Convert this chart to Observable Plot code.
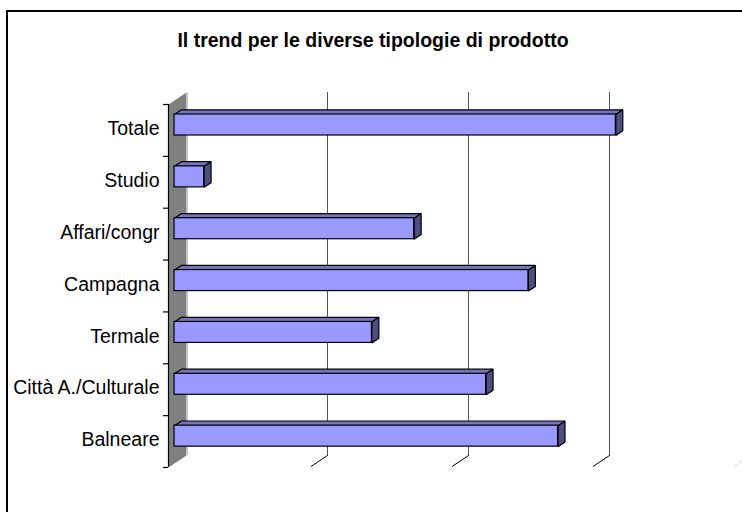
<!DOCTYPE html>
<html>
<head>
<meta charset="utf-8">
<script src="https://cdn.jsdelivr.net/npm/d3@7"></script>
<script src="https://cdn.jsdelivr.net/npm/@observablehq/plot@0.6"></script>
<style>
  html, body { margin: 0; padding: 0; background: #fff; overflow: hidden; }
  #wrap { position: relative; width: 742px; height: 512px; overflow: hidden; }
  #border { position: absolute; left: 6px; top: 10px; width: 800px; height: 600px; border: 2px solid #000; box-sizing: border-box; }
  #title { position: absolute; left: 0; width: 746px; top: 29px; text-align: center;
           font-family: "Liberation Sans", Arial, sans-serif; font-weight: bold; font-size: 19.5px; color: #000; }
  #chart { position: absolute; left: 0; top: 0; }
</style>
</head>
<body>
<div id="wrap">
  <div id="border"></div>
  <div id="title">Il trend per le diverse tipologie di prodotto</div>
  <div id="chart"></div>
</div>
<script>
// ---- data ----
const categories = ["Totale", "Studio", "Affari/congr", "Campagna", "Termale", "Città A./Culturale", "Balneare"];
const values = [31.3, 2.1, 17.0, 25.1, 14.0, 22.1, 27.2];
const gridValues = [10, 20, 30, 40];

// ---- layout ----
const W = 742, H = 512;
const mL = 168, mR = 10, mT = 104, mB = 45;
const xMax = 40;
const pxX = (W - mL - mR) / xMax;              // px per x unit
const pxY = (H - mT - mB) / categories.length;  // px per category
const DX = 18 / pxX, DY = 12 / pxY;             // wall depth in data units
const P = (x, y, d) => ({x: x + d * DX, y: y - d * DY});

const dF = 1 / 3, dB = 0.72, a = 0.27, h = 0.405;

const bars = categories.map((c, i) => ({c, i, v: values[i]}));

const topFaces = bars.flatMap(b => [
  P(0, b.i + a, dF), P(b.v, b.i + a, dF), P(b.v, b.i + a, dB), P(0, b.i + a, dB), P(0, b.i + a, dF)
].map(p => ({...p, id: b.c})));
const sideFaces = bars.flatMap(b => [
  P(b.v, b.i + a, dF), P(b.v, b.i + a, dB), P(b.v, b.i + a + h, dB), P(b.v, b.i + a + h, dF), P(b.v, b.i + a, dF)
].map(p => ({...p, id: b.c})));
const n = categories.length;
const wall = [P(0, 0, 0), P(0, 0, 1), P(0, n, 1), P(0, n, 0), P(0, 0, 0)];
const floorLines = gridValues.flatMap(g => [P(g, n, 0.1), P(g, n, 1)].map(p => ({...p, g})));

const chart = Plot.plot({
  width: W, height: H,
  marginLeft: mL, marginRight: mR, marginTop: mT, marginBottom: mB,
  style: {background: "transparent", fontFamily: "'Liberation Sans', Arial, sans-serif"},
  x: {domain: [0, xMax], axis: null},
  y: {domain: [0, n], reverse: true, axis: null},
  marks: [
    Plot.line(wall, {x: "x", y: "y", fill: "#808080", stroke: "none"}),
    Plot.ruleX([0], {x: d => d + DX + 1 / pxX, y1: -DY, y2: n - DY, stroke: "#c8c8c8", strokeWidth: 1}),
    Plot.ruleX(gridValues, {x: d => d + DX, y1: -DY, y2: n - DY, stroke: "#555", strokeWidth: 1}),
    Plot.line(floorLines, {x: "x", y: "y", z: "g", stroke: d => d.g === 40 ? "#ddd" : "#000", strokeWidth: 1}),
    Plot.line(topFaces, {x: "x", y: "y", z: "id", fill: "#7474c0", stroke: "#000", strokeWidth: 1.2, strokeLinejoin: "miter"}),
    Plot.line(sideFaces, {x: "x", y: "y", z: "id", fill: "#4d4d80", stroke: "#000", strokeWidth: 1.2, strokeLinejoin: "miter"}),
    Plot.rect(bars, {
      x1: d => dF * DX, x2: d => d.v + dF * DX,
      y1: d => d.i + a - dF * DY, y2: d => d.i + a + h - dF * DY,
      fill: "#9999ff", stroke: "#000", strokeWidth: 1.2
    }),
    Plot.ruleX([0], {y1: 0, y2: n, stroke: "#000", strokeWidth: 1.2}),
    Plot.ruleY(d3.range(n + 1), {y: d => d, x1: -5 / pxX, x2: 0, stroke: "#000", strokeWidth: 1.2}),
    Plot.text(bars, {x: 0, y: d => d.i + 0.5, text: "c", textAnchor: "end", dx: -9, dy: -1.5,
      fontSize: 19.5, fill: "#000"})
  ]
});
document.getElementById("chart").appendChild(chart);
</script>
</body>
</html>
